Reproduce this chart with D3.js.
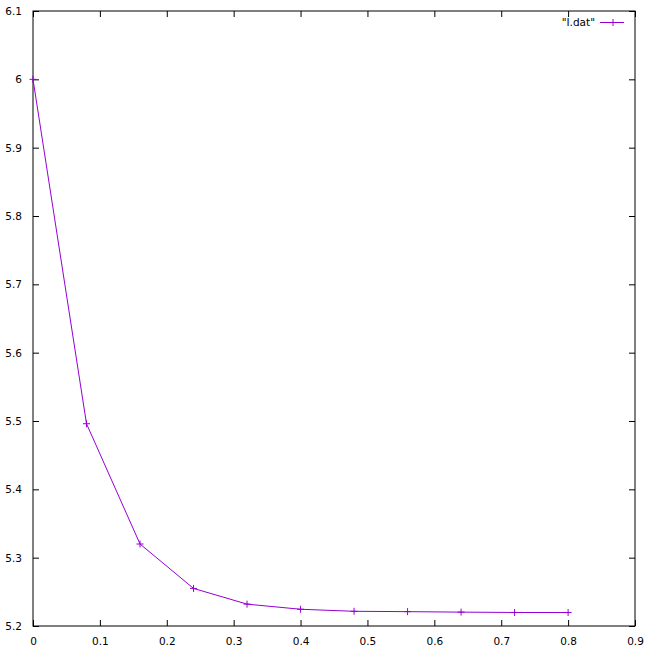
<!DOCTYPE html>
<html>
<head>
<meta charset="utf-8">
<script src="https://cdn.jsdelivr.net/npm/d3@7"></script>
<style>
  html, body { margin: 0; padding: 0; background: #fff; }
  svg { display: block; }
  text { font-family: "DejaVu Sans", "Liberation Sans", Arial, sans-serif; font-size: 10.5px; fill: #000; }
</style>
</head>
<body>
<svg id="chart" width="650" height="650"></svg>
<script>
const xValues = [0, 0.08, 0.16, 0.24, 0.32, 0.40, 0.48, 0.56, 0.64, 0.72, 0.80];
const yValues = [6.0, 5.496, 5.320, 5.255, 5.232, 5.2245, 5.2215, 5.221, 5.2203, 5.2198, 5.2197];
const xTicks = [0, 0.1, 0.2, 0.3, 0.4, 0.5, 0.6, 0.7, 0.8, 0.9];
const yTicks = [5.2, 5.3, 5.4, 5.5, 5.6, 5.7, 5.8, 5.9, 6, 6.1];
const seriesName = '"I.dat"';
const color = "#9400d3";

const svg = d3.select("#chart");
const L = 33, R = 635, T = 11, B = 626;
const x = d3.scaleLinear().domain([0, 0.9]).range([L, R]);
const y = d3.scaleLinear().domain([5.2, 6.1]).range([B, T]);
const tickLen = 6;

// frame
svg.append("rect").attr("x", L).attr("y", T).attr("width", R - L).attr("height", B - T)
  .attr("fill", "none").attr("stroke", "#000").attr("stroke-width", 1);

// bottom axis (inward ticks)
const xb = svg.append("g").attr("transform", `translate(0,${B})`)
  .call(d3.axisBottom(x).tickValues(xTicks).tickSize(-tickLen).tickPadding(tickLen + 6)
    .tickFormat(d => d3.format("")(+d.toFixed(1))));
xb.select(".domain").remove();
xb.selectAll("text").style("font-size", "10.5px").attr("font-family", null);
// top mirror ticks
const xt = svg.append("g").attr("transform", `translate(0,${T})`)
  .call(d3.axisTop(x).tickValues(xTicks).tickSize(-tickLen).tickFormat(""));
xt.select(".domain").remove();

// left axis
const yl = svg.append("g").attr("transform", `translate(${L},0)`)
  .call(d3.axisLeft(y).tickValues(yTicks).tickSize(-tickLen).tickPadding(tickLen + 5)
    .tickFormat(d => d3.format("")(+d.toFixed(1))));
yl.select(".domain").remove();
yl.selectAll("text").style("font-size", "10.5px").attr("font-family", null);
// right mirror ticks
const yr = svg.append("g").attr("transform", `translate(${R},0)`)
  .call(d3.axisRight(y).tickValues(yTicks).tickSize(-tickLen).tickFormat(""));
yr.select(".domain").remove();

// data
const data = xValues.map((v, i) => ({ x: v, y: yValues[i] }));
svg.append("path").datum(data)
  .attr("fill", "none").attr("stroke", color).attr("stroke-width", 1)
  .attr("d", d3.line().x(d => x(d.x)).y(d => y(d.y)));

const plus = (g, cx, cy, s) => {
  g.append("line").attr("x1", cx - s).attr("x2", cx + s).attr("y1", cy).attr("y2", cy)
    .attr("stroke", color).attr("stroke-width", 1);
  g.append("line").attr("x1", cx).attr("x2", cx).attr("y1", cy - s).attr("y2", cy + s)
    .attr("stroke", color).attr("stroke-width", 1);
};
const marks = svg.append("g");
data.forEach(d => plus(marks, x(d.x), y(d.y), 3.5));

// legend
const ly = 22.5;
svg.append("text").attr("x", 595).attr("y", ly).attr("dy", "0.35em")
  .attr("text-anchor", "end").text(seriesName);
svg.append("line").attr("x1", 600).attr("x2", 624).attr("y1", ly).attr("y2", ly)
  .attr("stroke", color).attr("stroke-width", 1);
plus(svg.append("g"), 613, ly, 3.5);
</script>
</body>
</html>
